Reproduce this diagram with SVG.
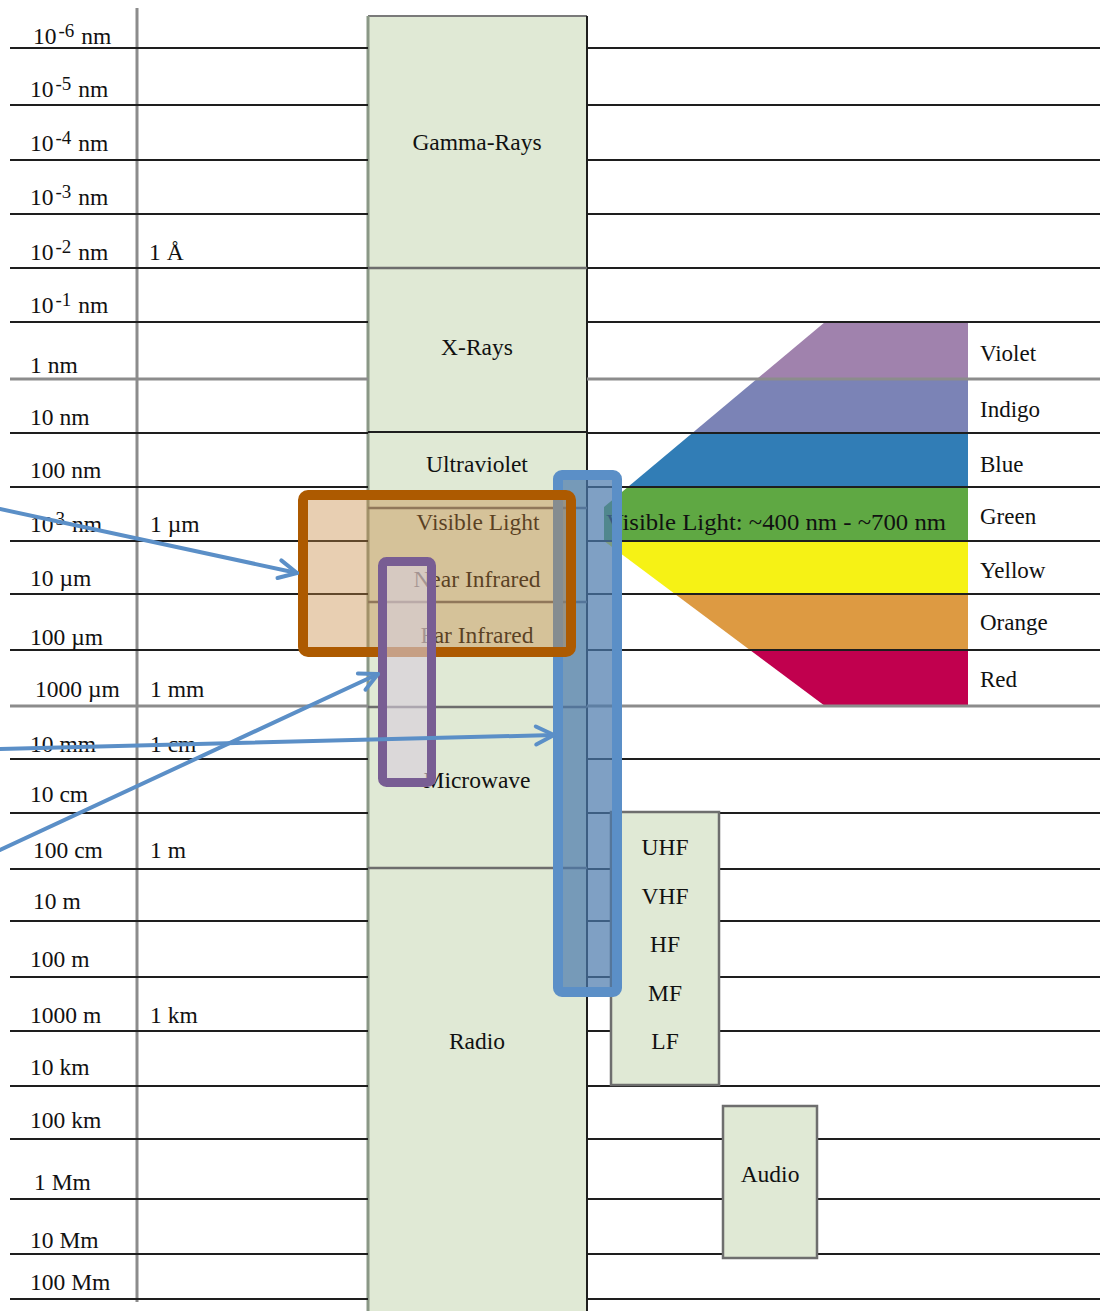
<svg xmlns="http://www.w3.org/2000/svg" width="1105" height="1311" viewBox="0 0 1105 1311">
<style>
text{font-family:"Liberation Serif","Times New Roman",serif;fill:#111111}
.lbl{font-size:23.5px}
.sup{font-size:19px}
.col{font-size:23.5px;text-anchor:middle}
.grid{stroke:#1e1e1e;stroke-width:2}
.gridg{stroke:#8c8c8c;stroke-width:3}
.div{stroke:#6d6d6d;stroke-width:2.5}
.band{font-size:23px}
.box{fill:#e0e9d5;stroke:#6e6e6e;stroke-width:2.5}
.arrow{stroke:#5b8fc7;stroke-width:4;fill:none;stroke-linecap:round}
</style>
<defs>
<marker id="chev" viewBox="0 0 24 24" refX="21" refY="12" markerWidth="24" markerHeight="24" markerUnits="userSpaceOnUse" orient="auto">
<path d="M3,3 L21,12 L3,21" fill="none" stroke="#5b8fc7" stroke-width="4" stroke-linecap="round" stroke-linejoin="round"/>
</marker>
<clipPath id="spec"><polygon points="825,322 968,322 968,706 825,706 604,541 604,507"/></clipPath>
</defs>
<rect width="1105" height="1311" fill="#ffffff"/>

<g id="column">
<rect x="368" y="16" width="219" height="1300" fill="#e0e9d5"/>
<line x1="368" y1="16" x2="587" y2="16" stroke="#7a7a7a" stroke-width="2"/>
<line x1="368" y1="16" x2="368" y2="1311" stroke="#8a9886" stroke-width="3"/>
<line x1="587" y1="16" x2="587" y2="1311" stroke="#1e1e1e" stroke-width="2"/>
<line class="div" x1="368" y1="268" x2="587" y2="268"/>
<line class="grid" x1="368" y1="432" x2="587" y2="432"/>
<line class="div" x1="368" y1="508" x2="587" y2="508"/>
<line class="div" x1="368" y1="602" x2="587" y2="602"/>
<line class="div" x1="368" y1="707" x2="587" y2="707"/>
<line class="div" x1="368" y1="868" x2="587" y2="868"/>
</g>

<g id="spectrum" clip-path="url(#spec)">
<rect x="590" y="322" width="378" height="57" fill="#a082ad"/>
<rect x="590" y="379" width="378" height="54" fill="#7b83b6"/>
<rect x="590" y="433" width="378" height="54" fill="#317db6"/>
<rect x="590" y="487" width="378" height="54" fill="#5fa843"/>
<rect x="590" y="541" width="378" height="53" fill="#f6f215"/>
<rect x="590" y="594" width="378" height="56" fill="#dd9a42"/>
<rect x="590" y="650" width="378" height="56" fill="#c1004e"/>
</g>

<g id="grid">
<line x1="137" y1="8" x2="137" y2="1302" stroke="#8c8c8c" stroke-width="3"/>
<line class="grid" x1="10" y1="48" x2="368" y2="48"/><line class="grid" x1="587" y1="48" x2="1100" y2="48"/>
<line class="grid" x1="10" y1="105" x2="368" y2="105"/><line class="grid" x1="587" y1="105" x2="1100" y2="105"/>
<line class="grid" x1="10" y1="160" x2="368" y2="160"/><line class="grid" x1="587" y1="160" x2="1100" y2="160"/>
<line class="grid" x1="10" y1="214" x2="368" y2="214"/><line class="grid" x1="587" y1="214" x2="1100" y2="214"/>
<line class="grid" x1="10" y1="268" x2="368" y2="268"/><line class="grid" x1="587" y1="268" x2="1100" y2="268"/>
<line class="grid" x1="10" y1="322" x2="368" y2="322"/><line class="grid" x1="587" y1="322" x2="1100" y2="322"/>
<line class="gridg" x1="10" y1="379" x2="368" y2="379"/><line class="gridg" x1="587" y1="379" x2="1100" y2="379"/>
<line class="grid" x1="10" y1="433" x2="368" y2="433"/><line class="grid" x1="587" y1="433" x2="1100" y2="433"/>
<line class="grid" x1="10" y1="487" x2="368" y2="487"/><line class="grid" x1="587" y1="487" x2="1100" y2="487"/>
<line class="grid" x1="10" y1="541" x2="368" y2="541"/><line class="grid" x1="587" y1="541" x2="1100" y2="541"/>
<line class="grid" x1="10" y1="594" x2="368" y2="594"/><line class="grid" x1="587" y1="594" x2="1100" y2="594"/>
<line class="grid" x1="10" y1="650" x2="368" y2="650"/><line class="grid" x1="587" y1="650" x2="1100" y2="650"/>
<line class="gridg" x1="10" y1="706" x2="368" y2="706"/><line class="gridg" x1="587" y1="706" x2="1100" y2="706"/>
<line class="grid" x1="10" y1="759" x2="368" y2="759"/><line class="grid" x1="587" y1="759" x2="1100" y2="759"/>
<line class="grid" x1="10" y1="813" x2="368" y2="813"/><line class="grid" x1="587" y1="813" x2="1100" y2="813"/>
<line class="grid" x1="10" y1="869" x2="368" y2="869"/><line class="grid" x1="587" y1="869" x2="1100" y2="869"/>
<line class="grid" x1="10" y1="921" x2="368" y2="921"/><line class="grid" x1="587" y1="921" x2="1100" y2="921"/>
<line class="grid" x1="10" y1="977" x2="368" y2="977"/><line class="grid" x1="587" y1="977" x2="1100" y2="977"/>
<line class="grid" x1="10" y1="1031" x2="368" y2="1031"/><line class="grid" x1="587" y1="1031" x2="1100" y2="1031"/>
<line class="grid" x1="10" y1="1086" x2="368" y2="1086"/><line class="grid" x1="587" y1="1086" x2="1100" y2="1086"/>
<line class="grid" x1="10" y1="1139" x2="368" y2="1139"/><line class="grid" x1="587" y1="1139" x2="1100" y2="1139"/>
<line class="grid" x1="10" y1="1199" x2="368" y2="1199"/><line class="grid" x1="587" y1="1199" x2="1100" y2="1199"/>
<line class="grid" x1="10" y1="1254" x2="368" y2="1254"/><line class="grid" x1="587" y1="1254" x2="1100" y2="1254"/>
<line class="grid" x1="10" y1="1299" x2="368" y2="1299"/><line class="grid" x1="587" y1="1299" x2="1100" y2="1299"/>
</g>

<g id="scale-labels">
<text class="lbl" x="33" y="44">10<tspan class="sup" dx="2" dy="-7">-6</tspan><tspan dx="7" dy="7">nm</tspan></text>
<text class="lbl" x="30" y="97">10<tspan class="sup" dx="2" dy="-7">-5</tspan><tspan dx="7" dy="7">nm</tspan></text>
<text class="lbl" x="30" y="151">10<tspan class="sup" dx="2" dy="-7">-4</tspan><tspan dx="7" dy="7">nm</tspan></text>
<text class="lbl" x="30" y="205">10<tspan class="sup" dx="2" dy="-7">-3</tspan><tspan dx="7" dy="7">nm</tspan></text>
<text class="lbl" x="30" y="260">10<tspan class="sup" dx="2" dy="-7">-2</tspan><tspan dx="7" dy="7">nm</tspan></text>
<text class="lbl" x="30" y="313">10<tspan class="sup" dx="2" dy="-7">-1</tspan><tspan dx="7" dy="7">nm</tspan></text>
<text class="lbl" x="30" y="373">1 nm</text>
<text class="lbl" x="30" y="425">10 nm</text>
<text class="lbl" x="30" y="478">100 nm</text>
<text class="lbl" x="30" y="532">10<tspan class="sup" dx="2" dy="-7">3</tspan><tspan dx="7" dy="7">nm</tspan></text>
<text class="lbl" x="30" y="586">10 µm</text>
<text class="lbl" x="30" y="645">100 µm</text>
<text class="lbl" x="35" y="697">1000 µm</text>
<text class="lbl" x="30" y="752">10 mm</text>
<text class="lbl" x="30" y="802">10 cm</text>
<text class="lbl" x="33" y="858">100 cm</text>
<text class="lbl" x="33" y="909">10 m</text>
<text class="lbl" x="30" y="967">100 m</text>
<text class="lbl" x="30" y="1023">1000 m</text>
<text class="lbl" x="30" y="1075">10 km</text>
<text class="lbl" x="30" y="1128">100 km</text>
<text class="lbl" x="34" y="1190">1 Mm</text>
<text class="lbl" x="30" y="1248">10 Mm</text>
<text class="lbl" x="30" y="1290">100 Mm</text>
<text class="lbl" x="149" y="260">1 Å</text>
<text class="lbl" x="150" y="532">1 µm</text>
<text class="lbl" x="150" y="697">1 mm</text>
<text class="lbl" x="150" y="752">1 cm</text>
<text class="lbl" x="150" y="858">1 m</text>
<text class="lbl" x="150" y="1023">1 km</text>
</g>

<g id="column-labels">
<text class="col" x="477" y="150">Gamma-Rays</text>
<text class="col" x="477" y="355">X-Rays</text>
<text class="col" x="477" y="472">Ultraviolet</text>
<text class="col" x="478" y="530">Visible Light</text>
<text class="col" x="477" y="587">Near Infrared</text>
<text class="col" x="477" y="643">Far Infrared</text>
<text class="col" x="477" y="788">Microwave</text>
<text class="col" x="477" y="1049">Radio</text>
</g>

<g id="spectrum-labels">
<text class="band" x="606" y="530" textLength="340" lengthAdjust="spacingAndGlyphs">Visible Light:  ~400 nm - ~700 nm</text>
<text class="band" x="980" y="361">Violet</text>
<text class="band" x="980" y="417">Indigo</text>
<text class="band" x="980" y="472">Blue</text>
<text class="band" x="980" y="524">Green</text>
<text class="band" x="980" y="578">Yellow</text>
<text class="band" x="980" y="630">Orange</text>
<text class="band" x="980" y="687">Red</text>
</g>

<g id="radio-bands">
<rect class="box" x="611" y="812" width="108" height="273"/>
<text class="col" x="665" y="855">UHF</text>
<text class="col" x="665" y="904">VHF</text>
<text class="col" x="665" y="952">HF</text>
<text class="col" x="665" y="1001">MF</text>
<text class="col" x="665" y="1049">LF</text>
</g>

<g id="audio">
<rect class="box" x="723" y="1106" width="94" height="152"/>
<text class="col" x="770" y="1182">Audio</text>
</g>

<g id="highlight-blue">
<rect x="558" y="475" width="59" height="517" rx="4" fill="rgba(75,121,172,0.71)" stroke="#5b8fc7" stroke-width="10"/>
</g>

<g id="highlight-orange">
<rect x="303" y="495" width="268" height="157" rx="5" fill="rgba(197,135,62,0.4)" stroke="#ad5a00" stroke-width="10"/>
</g>

<g id="highlight-purple">
<rect x="382.5" y="561.5" width="49" height="221" rx="4" fill="rgba(215,205,220,0.6)" stroke="#785d93" stroke-width="9"/>
</g>

<g id="connectors">
<line class="arrow" x1="0" y1="509" x2="297" y2="573" marker-end="url(#chev)"/>
<line class="arrow" x1="0" y1="749" x2="554" y2="735" marker-end="url(#chev)"/>
<line class="arrow" x1="0" y1="850" x2="378" y2="674" marker-end="url(#chev)"/>
</g>
</svg>
